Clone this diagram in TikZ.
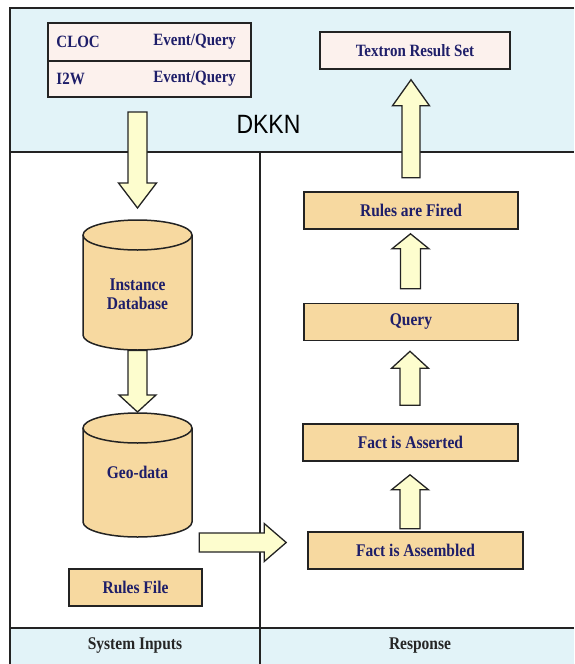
\documentclass[tikz,border=0pt]{standalone}
\usepackage{fontspec}
\setmainfont{Liberation Serif}
\newfontfamily\headfont{Liberation Sans}
\usepackage{graphicx}
\usetikzlibrary{calc}

\definecolor{bandblue}{RGB}{226,243,248}
\definecolor{tanfill}{RGB}{247,217,160}
\definecolor{arrowfill}{RGB}{253,253,206}
\definecolor{tablefill}{RGB}{252,241,237}
\definecolor{navytext}{RGB}{30,30,105}
\definecolor{inkline}{RGB}{35,35,35}

% slightly tall lettering
\newcommand\tall[1]{\scalebox{1}[1.15]{#1}}
\newcommand\lblfont{\fontsize{15.5}{17}\selectfont\bfseries}
\newcommand\tabfont{\fontsize{15}{17}\selectfont\bfseries}

% hollow block arrow: tail, tip, half shaft width, half head width, head length
\newcommand\blockarrow[5]{%
  \draw[fatarrow] let \p1=(#1), \p2=(#2),
      \n1={veclen(\x2-\x1,\y2-\y1)}, \n2={atan2(\y2-\y1,\x2-\x1)} in
    [shift={(\p1)}, rotate=\n2]
    (0,-#3) -- ({\n1-#5},-#3) -- ({\n1-#5},-#4) -- (\n1,0)
    -- ({\n1-#5},#4) -- ({\n1-#5},#3) -- (0,#3) -- cycle;}

% database cylinder: name, centre x, top y, bottom y, label, label y
\newcommand\dbcyl[6]{%
  \draw[cylstyle] (#2-54.5,#3+15) -- (#2-54.5,#4-15)
    arc[start angle=180,end angle=360,x radius=54.5pt,y radius=15pt]
    -- (#2+54.5,#3+15)
    arc[start angle=0,end angle=180,x radius=54.5pt,y radius=15pt] -- cycle;
  \draw[cylstyle,fill=none] (#2-54.5,#3+15)
    arc[start angle=180,end angle=360,x radius=54.5pt,y radius=15pt];
  \node[inner sep=0pt, minimum width=109pt, minimum height={#4-#3}, anchor=north] (#1) at (#2,#3) {};
  \node[lbl] (#1text) at (#2,#6) {\tall{\begin{tabular}{@{}c@{}}#5\end{tabular}}};}

\tikzset{
  frameline/.style={draw=inkline, line width=1.4pt},
  fatarrow/.style={draw=inkline, line width=1.3pt, fill=arrowfill, line join=miter},
  cylstyle/.style={draw=inkline, line width=1.5pt, fill=tanfill},
  lbl/.style={text=navytext, font=\lblfont, inner sep=0pt},
  tanbox/.style={draw=inkline, line width=1.6pt, fill=tanfill, minimum width=214pt,
                 minimum height=37pt, inner sep=0pt, text=navytext, font=\lblfont},
  rowbox/.style={draw=inkline, line width=1.5pt, fill=tablefill, minimum width=203pt, inner sep=0pt},
  tabtext/.style={text=navytext, font=\tabfont, inner sep=0pt, anchor=west},
  footlbl/.style={text=black!85, font=\lblfont, inner sep=0pt},
}

\begin{document}
\begin{tikzpicture}[x=1pt,y=-1pt]
\useasboundingbox (0,0) rectangle (574,664);

% swimlane bands and frame
\fill[bandblue] (10,8) rectangle (574,152);
\fill[bandblue] (10,628) rectangle (574,664);
\draw[frameline] (574,8) -- (10,8) -- (10,664);
\draw[frameline] (10,152) -- (574,152);
\draw[frameline] (10,628) -- (574,628);
\draw[frameline] (260,152) -- (260,664);

% event / query table
\node[rowbox, minimum height=38pt] (cloc) at (149.5,42) {};
\node[rowbox, minimum height=36pt] (i2w) at (149.5,79) {};
\node[tabtext] (cloclbl) at ($(cloc.west)+(9,0)$) {\tall{CLOC}};
\node[tabtext] (clocev) at ($(cloc.west)+(106,0)$) {\tall{Event/Query}};
\node[tabtext] (i2wlbl) at ($(i2w.west)+(9,0)$) {\tall{I2W}};
\node[tabtext] (i2wev) at ($(i2w.west)+(106,0)$) {\tall{Event/Query}};

% lane title and result
\node[font=\headfont\fontsize{23}{26}\selectfont, inner sep=0pt] (dkkn) at (268.5,124) {\tall{DKKN}};
\node[rowbox, minimum width=190pt, minimum height=37pt, text=navytext, font=\tabfont] (result) at (415,50.5) {\tall{Textron Result Set}};

% system inputs
\dbcyl{inst}{137.5}{220}{350}{Instance\\[-1pt]Database}{296}
\dbcyl{geo}{137.5}{413}{537}{Geo-data}{475}
\node[tanbox, minimum width=133pt] (rules) at (135.5,587.5) {\tall{Rules File}};

% response steps
\node[tanbox] (fired) at (411,210.5) {\tall{Rules are Fired}};
\node[tanbox] (query) at (411,322) {\tall{Query}};
\node[tanbox, minimum width=215pt] (asserted) at (410.5,442.5) {\tall{Fact is Asserted}};
\node[tanbox, minimum width=215pt] (assembled) at (415.5,550.5) {\tall{Fact is Assembled}};

% lane footers
\node[footlbl] (sysin) at (135,646) {\tall{System Inputs}};
\node[footlbl] (resp) at (420,646) {\tall{Response}};

% flow arrows
\coordinate (a1t) at ($(inst.north)+(0,-108)$);
\coordinate (a1h) at ($(inst.north)+(0,-12)$);
\blockarrow{a1t}{a1h}{9.5}{19}{25}
\coordinate (a2h) at ($(geo.north)+(0,-1)$);
\blockarrow{inst.south}{a2h}{9.5}{18.5}{17}
\coordinate (a3t) at ($(assembled.west)+(-108,-8)$);
\coordinate (a3h) at ($(assembled.west)+(-21,-8)$);
\blockarrow{a3t}{a3h}{9.5}{19}{22}
\coordinate (a4t) at ($(asserted.south)+(-0.5,67)$);
\coordinate (a4h) at ($(asserted.south)+(-0.5,13)$);
\blockarrow{a4t}{a4h}{10}{18.5}{15}
\coordinate (a5t) at ($(query.south)+(-1,64)$);
\coordinate (a5h) at ($(query.south)+(-1,10)$);
\blockarrow{a5t}{a5h}{10}{18.5}{17}
\coordinate (a6t) at ($(fired.south)+(-0.5,59)$);
\coordinate (a6h) at ($(fired.south)+(-0.5,4)$);
\blockarrow{a6t}{a6h}{10}{18.5}{15}
\coordinate (a7t) at ($(result.south)+(-4,108)$);
\coordinate (a7h) at ($(result.south)+(-4,10)$);
\blockarrow{a7t}{a7h}{9}{18.5}{26}
\end{tikzpicture}
\end{document}
